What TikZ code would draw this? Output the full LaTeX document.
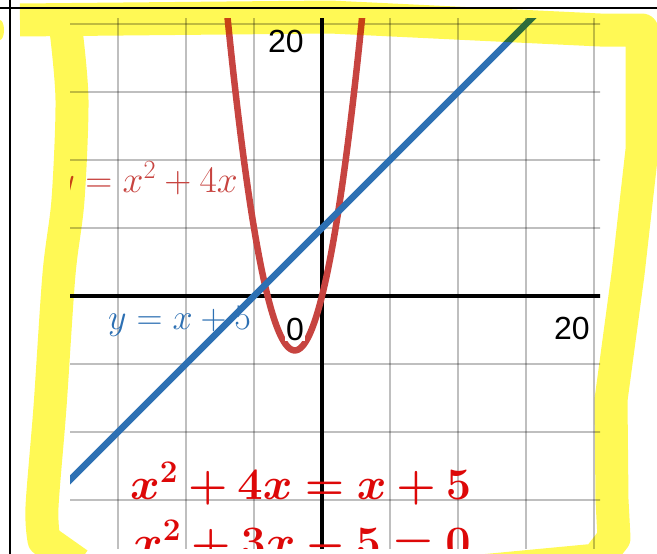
\RequirePackage{fix-cm}
\documentclass[tikz,border=0pt]{standalone}
\usepackage{fontspec}
\usepackage{amsmath}
\usepackage{bm}
\newfontfamily\arialFont{Liberation Sans}
\definecolor{colorRed}{HTML}{C74440}
\definecolor{colorBlue}{HTML}{2D70B3}
\definecolor{colorHand}{HTML}{DD0808}
\definecolor{colorYellow}{HTML}{FFF955}
\def\colorRed{colorRed}
\def\colorBlue{colorBlue}
\def\colorHand{colorHand}
\def\colorYellow{colorYellow}
\begin{document}
\begin{tikzpicture}[x=1pt, y=-1pt]
    \useasboundingbox (0,0) rectangle (657,554);

    % Cadre noir
    \draw[line width=2.5pt] (0,8) -- (657,8);
    \draw[line width=2.5pt] (10,0) -- (10,554);

    \begin{scope}
    \clip (70,18) rectangle (600,548);

    % Repere (unite = 13.6 px)
    \begin{scope}[shift={(322,296)}, x=13.6pt, y=13.6pt]
        % Grille
        \foreach \k in {-15,-10,-5,5,10,15,20} {
            \draw[line width=2pt, black, opacity=0.25] (\k,-19) -- (\k,21);
            \draw[line width=2pt, black, opacity=0.25] (-19,\k) -- (21,\k);
        }
        % Axes
        \draw[line width=3.5pt] (-19,0) -- (21,0);
        \draw[line width=3.5pt] (0,-19) -- (0,21);
        % Parabole
        \draw[line width=6.5pt, color=\colorRed, domain=-7.2:3.2, samples=120]
            plot (\x, {\x*\x+4*\x});
        % Droite
        \draw[line width=6.5pt, color=\colorBlue] (-19,-14) -- (17,22);
    \end{scope}

    % Graduations
    \node[font=\arialFont\fontsize{32}{36}\selectfont, fill=white, inner sep=1pt] (tickTop) at (286,41) {20};
    \node[font=\arialFont\fontsize{32}{36}\selectfont, fill=white, inner sep=1pt] (tickRight) at (572,328) {20};
    \node[font=\arialFont\fontsize{32}{36}\selectfont, fill=white, inner sep=1pt] (tickZero) at (295,329) {0};

    % Etiquettes des courbes
    \node[\colorRed, anchor=base east, inner sep=0pt, font=\fontsize{37.5}{43}\selectfont]
        (labelParabola) at (238,192) {$y=x^2+4x$};
    \node[\colorBlue, anchor=base west, inner sep=0pt, font=\fontsize{36}{42}\selectfont]
        (labelLine) at (108,329) {$y=x+5$};

    % Ecriture a la main
    \node[\colorHand, anchor=base west, inner sep=0pt, font=\fontsize{45}{50}\selectfont]
        (eqOne) at (130,499) {$\bm{x^2+4x=x+5}$};
    \node[\colorHand, anchor=base west, inner sep=0pt, font=\fontsize{45}{50}\selectfont]
        (eqTwo) at (133,557) {$\bm{x^2+3x-5=0}$};
    \end{scope}

    % Surligneur jaune
    \begin{scope}[blend mode=multiply]
    \fill[\colorYellow] (0,30) ellipse (4 and 10);
    \draw[line width=33pt, color=\colorYellow, line join=round]
        (20,20) -- (330,17) -- (600,30) -- (642,30) -- (642,150) -- (628,274)
        -- (611,400) -- (612,500) -- (614,538) -- (597,560) -- (470,572)
        plot[smooth, tension=0.5] coordinates {(66,30) (72,100) (68,200) (59,274) (50,407) (42,507) (44,540)}
        -- (78,564);
    \end{scope}
\end{tikzpicture}
\end{document}
